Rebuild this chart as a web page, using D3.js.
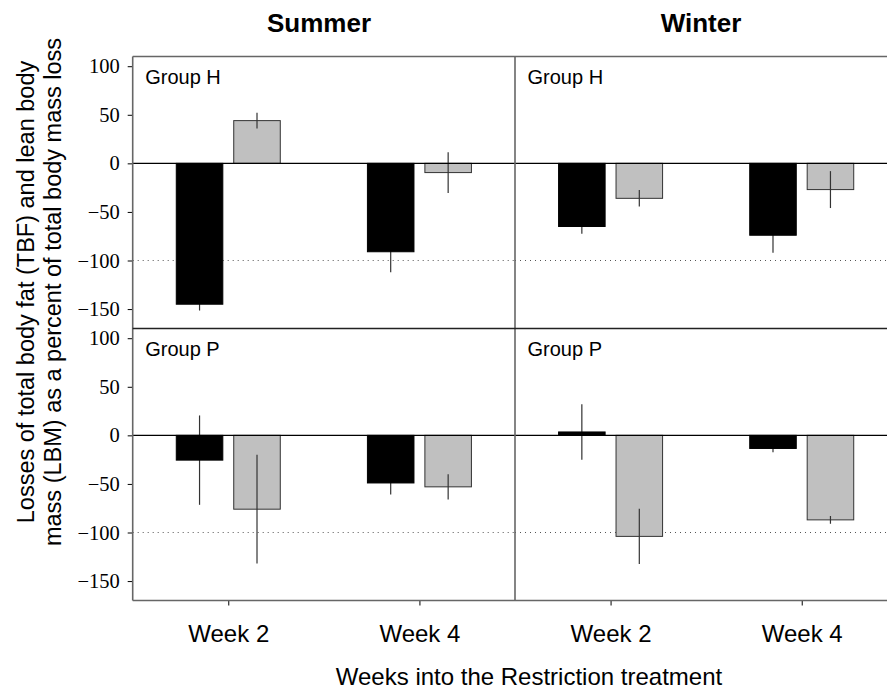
<!DOCTYPE html>
<html>
<head>
<meta charset="utf-8">
<script src="https://cdn.jsdelivr.net/npm/d3@7"></script>
<style>
  html, body { margin: 0; padding: 0; background: #fff; }
  svg { display: block; }
  .serif-ticks text { font-family: "Liberation Serif", "Times New Roman", "DejaVu Serif", serif !important; }
</style>
</head>
<body>
<svg id="chart" width="887" height="689"></svg>
<script>
// Season columns, group rows, sampling weeks and the two body components
const seasons = ["Summer", "Winter"];
const groups = ["Group H", "Group P"];
const weeks = ["Week 2", "Week 4"];
const components = ["TBF", "LBM"];
const yTicks = [100, 50, 0, -50, -100, -150];

// Percent of total body mass loss, [Week 2, Week 4], with error half-widths
const summerH_TBF = [-145, -91];   const summerH_TBF_err = [6.5, 21];
const summerH_LBM = [44, -9.5];    const summerH_LBM_err = [8, 21];
const winterH_TBF = [-65, -74];    const winterH_TBF_err = [7.5, 18];
const winterH_LBM = [-36, -27];    const winterH_LBM_err = [8.5, 19];
const summerP_TBF = [-25.5, -49];  const summerP_TBF_err = [46, 12];
const summerP_LBM = [-76, -53];    const summerP_LBM_err = [56, 13];
const winterP_TBF = [3.5, -13.5];  const winterP_TBF_err = [28.5, 4];
const winterP_LBM = [-104, -87];   const winterP_LBM_err = [28.5, 4];

const panelData = {
  "Summer|Group H": { TBF: [summerH_TBF, summerH_TBF_err], LBM: [summerH_LBM, summerH_LBM_err] },
  "Winter|Group H": { TBF: [winterH_TBF, winterH_TBF_err], LBM: [winterH_LBM, winterH_LBM_err] },
  "Summer|Group P": { TBF: [summerP_TBF, summerP_TBF_err], LBM: [summerP_LBM, summerP_LBM_err] },
  "Winter|Group P": { TBF: [winterP_TBF, winterP_TBF_err], LBM: [winterP_LBM, winterP_LBM_err] }
};

const fills = { TBF: "#000000", LBM: "#c0c0c0" };
const refLine = -100;

const svg = d3.select("#chart");
const sans = "'Liberation Sans', Arial, sans-serif";

// Panel geometry
const plotLeft = 132.7, panelW = 382.3;
const plotTop = 56.5, panelH = 272;
const frameColor = "#666";

const colX = d3.scaleBand().domain(seasons).range([plotLeft, plotLeft + 2 * panelW]).padding(0);
const rowY = d3.scaleBand().domain(groups).range([plotTop, plotTop + 2 * panelH]).padding(0);

groups.forEach(grp => {
  const y0 = rowY(grp);
  const y = d3.scaleLinear().domain([-170, 110]).range([y0 + panelH, y0]);

  seasons.forEach(season => {
    const x0 = colX(season);
    const x = d3.scalePoint().domain(weeks).range([x0, x0 + panelW]).padding(0.5);
    const sub = d3.scaleBand().domain(components).range([-52, 52]).paddingInner(0.19);
    const g = svg.append("g");
    const d = panelData[season + "|" + grp];

    // dotted reference at -100
    g.append("line")
      .attr("x1", x0).attr("x2", x0 + panelW)
      .attr("y1", y(refLine)).attr("y2", y(refLine))
      .attr("stroke", "#555").attr("stroke-width", 1)
      .attr("stroke-dasharray", "1,4");

    const recsOf = c => weeks.map((w, i) => ({ w, c, v: d[c][0][i], e: d[c][1][i] }));
    const cx = r => x(r.w) + sub(r.c) + sub.bandwidth() / 2;

    const drawBars = c => g.selectAll(null).data(recsOf(c)).enter().append("rect")
      .attr("x", r => x(r.w) + sub(c))
      .attr("width", sub.bandwidth())
      .attr("y", r => y(Math.max(0, r.v)))
      .attr("height", r => Math.abs(y(r.v) - y(0)))
      .attr("fill", fills[c])
      .attr("stroke", c === "TBF" ? "#000" : "#333")
      .attr("stroke-width", 1);

    const drawErrors = c => g.selectAll(null).data(recsOf(c)).enter().append("line")
      .attr("x1", cx).attr("x2", cx)
      .attr("y1", r => y(r.v + r.e))
      .attr("y2", r => y(r.v - r.e))
      .attr("stroke", "#333").attr("stroke-width", 1.2);

    // grey bars carry their whiskers on top; black bars cover theirs
    drawBars("LBM");
    drawErrors("LBM");
    drawErrors("TBF");
    drawBars("TBF");

    // zero line
    g.append("line")
      .attr("x1", x0).attr("x2", x0 + panelW)
      .attr("y1", y(0)).attr("y2", y(0))
      .attr("stroke", "#000").attr("stroke-width", 1.4);

    // group label
    g.append("text")
      .attr("x", x0 + 12.5).attr("y", y0 + 27)
      .attr("font-family", sans).attr("font-size", 20)
      .attr("fill", "#000")
      .text(grp);

    // bottom week ticks and labels
    if (grp === groups[groups.length - 1]) {
      const xa = g.append("g")
        .attr("transform", `translate(0,${y0 + panelH})`)
        .call(d3.axisBottom(x).tickSize(5).tickPadding(19));
      xa.select(".domain").remove();
      xa.selectAll(".tick line").attr("stroke", "#000").attr("stroke-width", 1);
      xa.selectAll(".tick text")
        .attr("font-family", sans).attr("font-size", 24).attr("fill", "#000");
    }
  });

  // left value axis for the row
  const ya = svg.append("g")
    .attr("class", "serif-ticks")
    .attr("transform", `translate(${plotLeft},0)`)
    .call(d3.axisLeft(y).tickValues(yTicks).tickSize(5).tickPadding(8).tickFormat(d3.format("d")));
  ya.select(".domain").remove();
  ya.attr("font-family", null);
  ya.selectAll(".tick line").attr("stroke", "#000").attr("stroke-width", 1);
  ya.selectAll(".tick text")
    .attr("font-size", 20.5).attr("fill", "#000");
});

// panel frame lines
const frame = svg.append("g").attr("stroke", frameColor).attr("stroke-width", 1.6).attr("fill", "none");
frame.append("line").attr("x1", plotLeft).attr("x2", plotLeft).attr("y1", plotTop).attr("y2", plotTop + 2 * panelH);
frame.append("line").attr("x1", colX("Winter")).attr("x2", colX("Winter")).attr("y1", plotTop).attr("y2", plotTop + 2 * panelH);
frame.append("line").attr("x1", plotLeft).attr("x2", plotLeft + 2 * panelW).attr("y1", plotTop).attr("y2", plotTop);
frame.append("line").attr("x1", plotLeft).attr("x2", plotLeft + 2 * panelW).attr("y1", rowY("Group P")).attr("y2", rowY("Group P"))
  .attr("stroke", "#222").attr("stroke-width", 1.3);
frame.append("line").attr("x1", plotLeft).attr("x2", plotLeft + 2 * panelW).attr("y1", plotTop + 2 * panelH).attr("y2", plotTop + 2 * panelH);

// season titles
svg.selectAll(null).data(seasons).enter().append("text")
  .attr("x", (s, i) => i === 0 ? 319 : 701)
  .attr("y", 32)
  .attr("text-anchor", "middle")
  .attr("font-family", sans).attr("font-weight", "bold").attr("font-size", 26)
  .attr("fill", "#000")
  .text(s => s);

// axis titles
svg.append("text")
  .attr("x", 529).attr("y", 685)
  .attr("text-anchor", "middle")
  .attr("font-family", sans).attr("font-size", 24).attr("fill", "#000")
  .text("Weeks into the Restriction treatment");

const yTitle = svg.append("text")
  .attr("transform", "translate(0,292) rotate(-90)")
  .attr("text-anchor", "middle")
  .attr("font-family", sans).attr("font-size", 23.5).attr("fill", "#000");
yTitle.append("tspan").attr("x", 0).attr("y", 34).text("Losses of total body fat (TBF) and lean body");
yTitle.append("tspan").attr("x", 0).attr("y", 61).text("mass (LBM) as a percent of total body mass loss");
</script>
</body>
</html>
